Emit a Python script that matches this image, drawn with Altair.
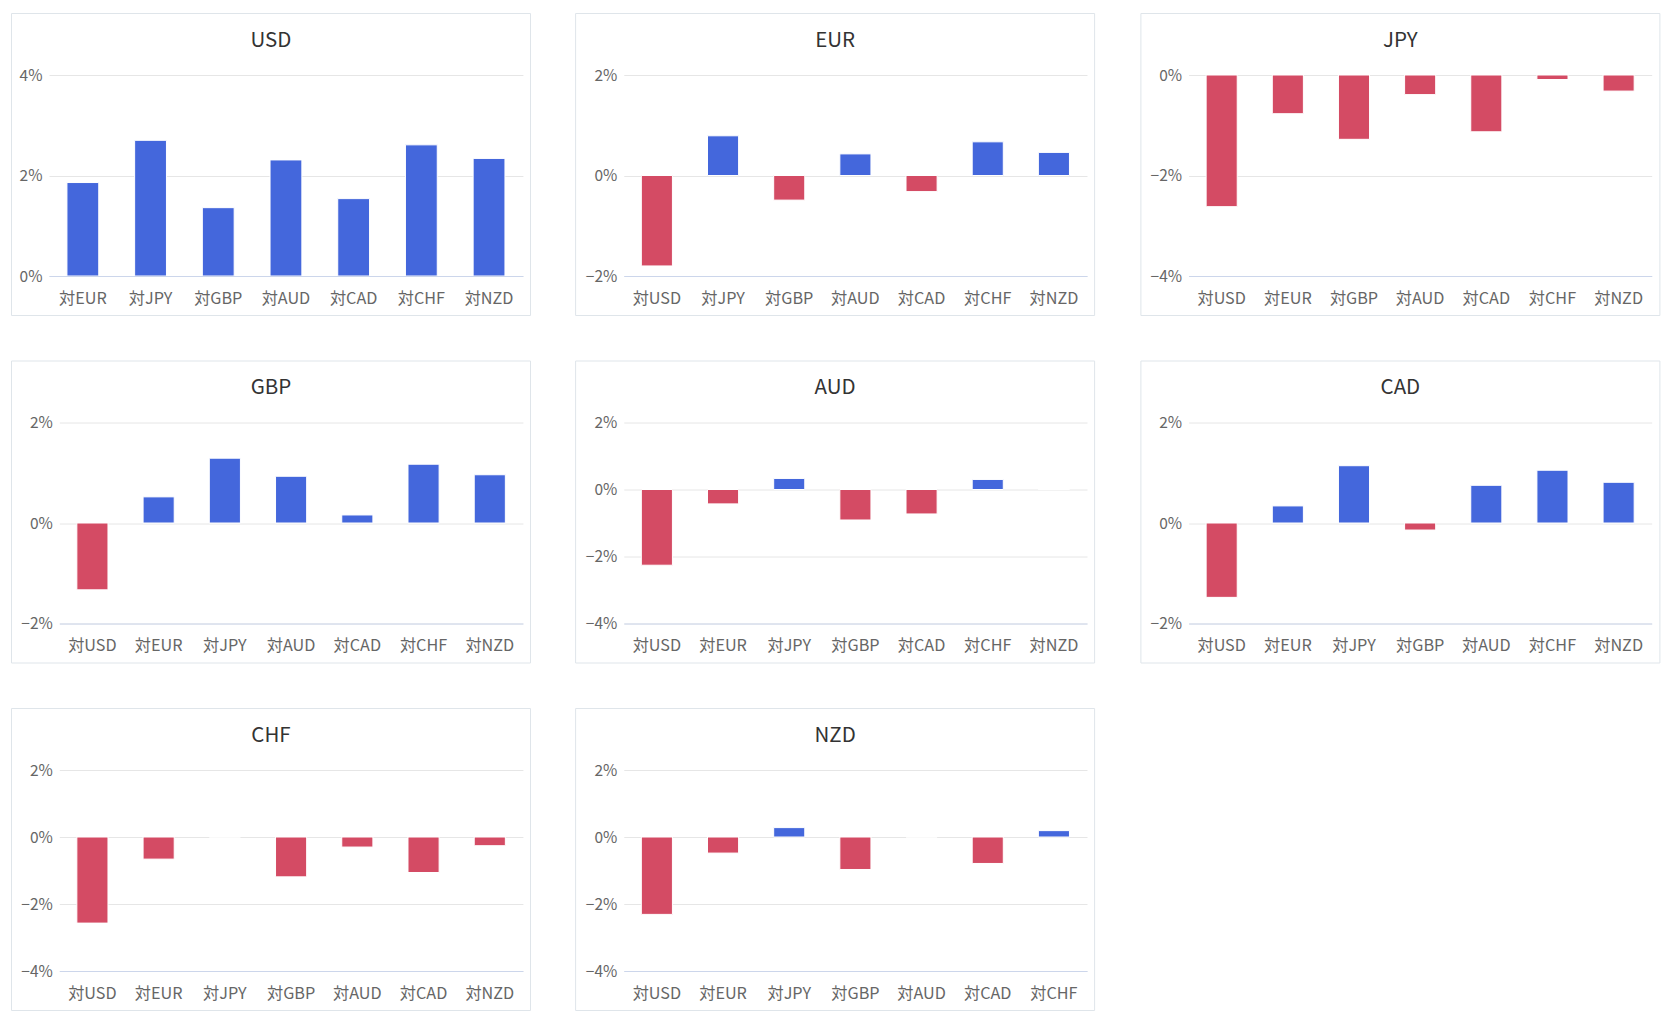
import altair as alt
import pandas as pd

# ---- data ----
CURRENCIES = ["USD", "EUR", "JPY", "GBP", "AUD", "CAD", "CHF", "NZD"]

USD_VALUES = [1.86, 2.70, 1.36, 2.31, 1.54, 2.61, 2.34]
EUR_VALUES = [-1.80, 0.79, -0.49, 0.43, -0.32, 0.67, 0.46]
JPY_VALUES = [-2.62, -0.77, -1.28, -0.39, -1.13, -0.09, -0.32]
GBP_VALUES = [-1.33, 0.52, 1.29, 0.93, 0.16, 1.17, 0.96]
AUD_VALUES = [-2.26, -0.43, 0.33, -0.91, -0.73, 0.30, 0.00]
CAD_VALUES = [-1.48, 0.34, 1.14, -0.14, 0.75, 1.05, 0.81]
CHF_VALUES = [-2.57, -0.66, 0.00, -1.19, -0.30, -1.06, -0.26]
NZD_VALUES = [-2.31, -0.48, 0.28, -0.97, 0.00, -0.79, 0.19]

VALUES = {
    "USD": USD_VALUES, "EUR": EUR_VALUES, "JPY": JPY_VALUES, "GBP": GBP_VALUES,
    "AUD": AUD_VALUES, "CAD": CAD_VALUES, "CHF": CHF_VALUES, "NZD": NZD_VALUES,
}
Y_DOMAINS = {
    "USD": [0, 4], "EUR": [-2, 2], "JPY": [-4, 0], "GBP": [-2, 2],
    "AUD": [-4, 2], "CAD": [-2, 2], "CHF": [-4, 2], "NZD": [-4, 2],
}

# ---- style / layout ----
BLUE = "#4467DC"
RED = "#D44B64"
BORDER = "#dfe5ea"
GRID = "#e6e6e6"
AXIS_LINE = "#ccd6eb"
LABEL = "#666666"
TITLE = "#333333"
FONT = "Noto Sans CJK JP"

H = 201          # plot height
T = 61.5         # frame extent above plot
B = 39.5         # frame extent below plot
FRAME_W = 519    # frame width
# per panel: group width, frame left extent, left shift of plot
GROUP_W = {"USD": 473.9, "EUR": 463.2, "JPY": 463.1, "GBP": 473.9,
           "AUD": 463.2, "CAD": 463.1, "CHF": 473.9, "NZD": 463.2}
LEFT = {"USD": 37.5, "EUR": 48.2, "JPY": 47.7, "GBP": 37.5,
        "AUD": 48.2, "CAD": 47.7, "CHF": 37.5, "NZD": 48.2}
SHIFT = {"USD": 0, "EUR": 0, "JPY": 0, "GBP": 10.3,
         "AUD": 0, "CAD": 0, "CHF": 10.3, "NZD": 0}


def panel(cur):
    others = [c for c in CURRENCIES if c != cur]
    df = pd.DataFrame({"pair": ["対" + c for c in others], "value": VALUES[cur]})
    lo, hi = Y_DOMAINS[cur]
    ticks = list(range(lo, hi + 1, 2))
    W = GROUP_W[cur]
    L = LEFT[cur]
    S = SHIFT[cur]
    R = FRAME_W - L - W

    frame = alt.Chart(alt.Data(values=[{}])).mark_rect(
        fill="white", fillOpacity=0, stroke=BORDER, strokeWidth=1
    ).encode(
        x=alt.value(-L), x2=alt.value(W + R),
        y=alt.value(-T), y2=alt.value(H + B),
    )

    bars = alt.Chart(df).mark_bar(stroke="white", strokeWidth=1).encode(
        x=alt.X(
            "pair:N", sort=None,
            scale=alt.Scale(paddingInner=0.53, paddingOuter=0.265, range=[S, W]),
            axis=alt.Axis(
                title=None, labelAngle=0, ticks=False, grid=False,
                domainColor=AXIS_LINE, domainWidth=1,
                labelColor=LABEL, labelFontSize=16.2, labelPadding=14,
                labelFont=FONT, zindex=1,
            ),
        ),
        y=alt.Y(
            "value:Q",
            scale=alt.Scale(domain=[lo, hi], nice=False),
            axis=alt.Axis(
                title=None, values=ticks, domain=False, ticks=False,
                gridColor=GRID, gridWidth=1, offset=-S,
                labelColor=LABEL, labelFontSize=15.5, labelPadding=7,
                labelFont=FONT, labelFlush=False,
                labelExpr="format(datum.value / 100, '.0%')",
            ),
        ),
        color=alt.condition("datum.value >= 0", alt.value(BLUE), alt.value(RED)),
    )

    return alt.layer(frame, bars).properties(
        width=W, height=H,
        title=alt.TitleParams(
            cur, frame="bounds", anchor="middle", baseline="alphabetic",
            offset=0, dy=54, fontSize=20.5, fontWeight="normal",
            color=TITLE, font=FONT,
        ),
    )


chart = alt.concat(
    *[panel(c) for c in CURRENCIES],
    columns=3,
    spacing={"row": 44.5, "column": 43.8},
).properties(
    padding={"left": 3, "top": 5, "right": 5, "bottom": 5},
    background="white",
).configure(
    font=FONT
).configure_view(
    stroke="transparent", strokeWidth=0, strokeOpacity=0
)

chart.save("out.html", embed_options={"renderer": "svg", "actions": False})
